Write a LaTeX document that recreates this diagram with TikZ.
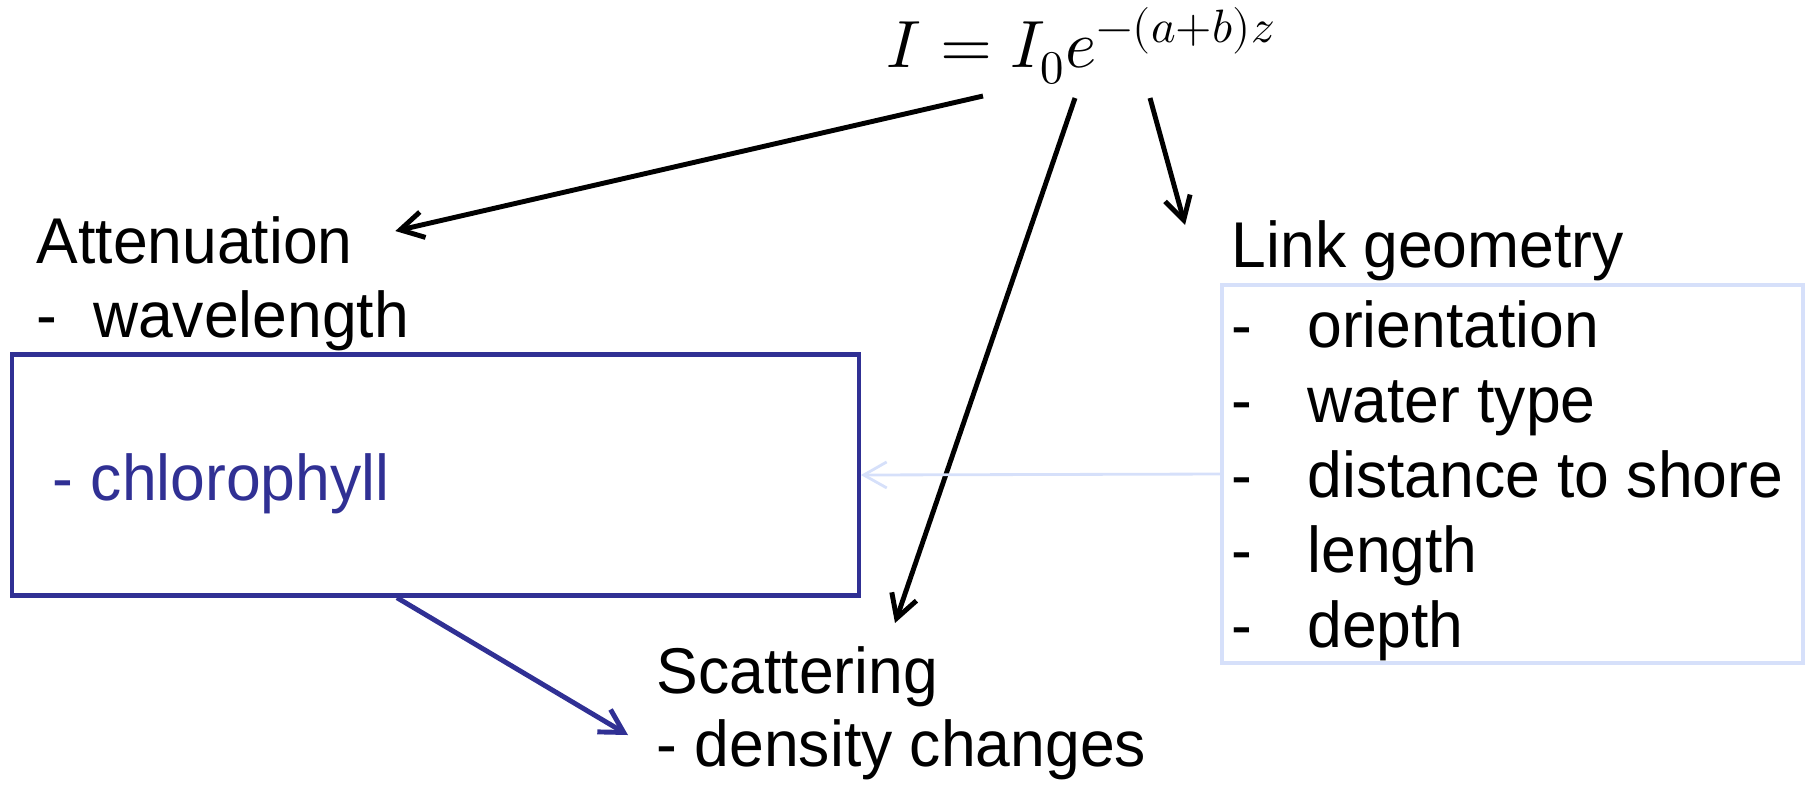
\documentclass[tikz,border=0pt]{standalone}
\usepackage{fontspec}
\usepackage{unicode-math}
\setmainfont[FakeStretch=0.965]{Liberation Sans}
\usetikzlibrary{arrows.meta,positioning}
\definecolor{boxblue}{RGB}{48,48,148}
\definecolor{paleblue}{RGB}{214,224,250}

\begin{document}
\begin{tikzpicture}[x=0.01cm,y=-0.01cm,>={Straight Barb[length=2.3mm,width=2.6mm]},
 lbl/.style={anchor=base west,inner sep=0pt,font=\fontsize{18.4}{22}\selectfont},
 arr/.style={->,line width=1.4pt},
 every node/.style={}]
\useasboundingbox (0,0) rectangle (1813,784);
% formula and the three factors
\node[anchor=base west,inner sep=0pt,font=\fontsize{19}{22}\selectfont] (eq) at (886,67) {$I = I_0 e^{-(a+b)z}$};
\node[lbl] (att) at (36,263) {Attenuation};
\node[lbl] (wav) at (36,337) {-\hspace{0.55em}wavelength};
\node[lbl] (scat) at (656,693) {Scattering};
\node[lbl] (dens) at (656,766) {- density changes};
\node[lbl] (link) at (1231,267) {Link geometry};
\foreach \t [count=\k] in {orientation,water type,distance to shore,length,depth}
  {\node[lbl] (g\k) at (1231,{347+75.2*(\k-1)}) {-\hspace{0.85em}\t};}
% boxes
\node[draw=boxblue,line width=1.2pt,minimum width=8.46cm,minimum height=2.41cm,inner sep=0pt] (chl) at (435.5,475) {};
\node[lbl,text=boxblue] (chltxt) at (52,500) {- chlorophyll};
\node[draw=paleblue,line width=1pt,minimum width=5.81cm,minimum height=3.78cm,inner sep=0pt] (geo) at (1512.5,474) {};
% arrows
\coordinate (o1) at (983,96);
\coordinate (o2) at (1075,98);
\coordinate (o3) at (1150,98);
\draw[arr] (o1) -- ([shift={(42,-32)}]att.base east);
\draw[arr] (o2) -- ([shift={(239,-70)}]scat.base west);
\draw[arr] (o3) -- ([shift={(-46,-42)}]link.base west);
\draw[arr,boxblue] ([xshift=-0.385cm]chl.south) -- ([shift={(-28,-31)}]dens.base west);
\draw[->,paleblue,line width=0.8pt] (geo.west) -- (chl.east);
\end{tikzpicture}
\end{document}
